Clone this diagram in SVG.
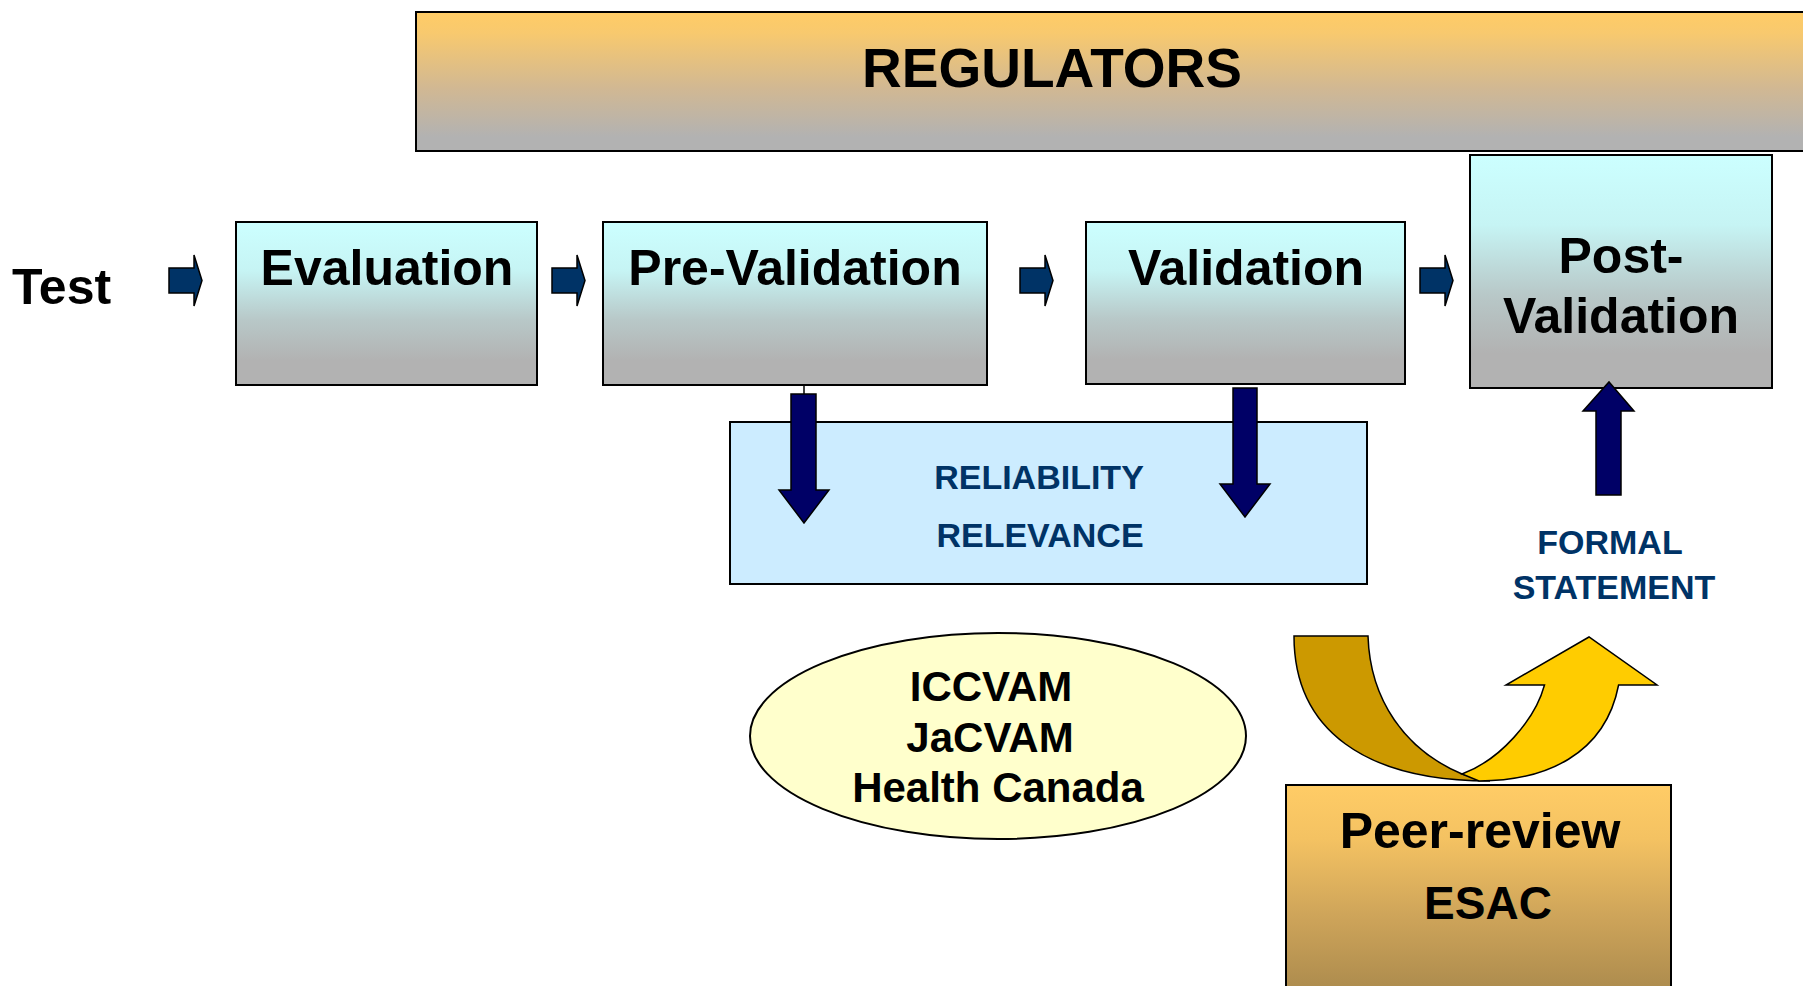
<svg xmlns="http://www.w3.org/2000/svg" width="1803" height="986" viewBox="0 0 1803 986">
<defs>
<linearGradient id="gReg" x1="0" y1="0" x2="0" y2="1">
<stop offset="0" stop-color="#FFCC66"/><stop offset="0.15" stop-color="#F8C96E"/><stop offset="0.55" stop-color="#D1B893"/><stop offset="0.9" stop-color="#B2B2B2"/><stop offset="1" stop-color="#B2B2B2"/>
</linearGradient>
<linearGradient id="gCyan" x1="0" y1="0" x2="0" y2="1">
<stop offset="0" stop-color="#CCFFFF"/><stop offset="0.3" stop-color="#C6F4F4"/><stop offset="0.6" stop-color="#B8C8C8"/><stop offset="0.85" stop-color="#B2B2B2"/><stop offset="1" stop-color="#B2B2B2"/>
</linearGradient>
<linearGradient id="gPeer" x1="0" y1="0" x2="0" y2="1">
<stop offset="0" stop-color="#FFCC66"/><stop offset="0.25" stop-color="#F4C262"/><stop offset="0.6" stop-color="#CFA55A"/><stop offset="1" stop-color="#A8884C"/>
</linearGradient>
<path id="rArrow" d="M0,13 H25 V0 L33,25.5 L25,51 V38 H0 Z"/>
</defs>
<style>
.box{stroke:#000;stroke-width:2}
.t{font-family:"Liberation Sans",Arial,sans-serif;font-weight:bold;fill:#000;text-anchor:middle}
.blue{fill:#003366}
.ra{fill:#003366;stroke:#000;stroke-width:1.5}
.na{fill:#000066;stroke:#000;stroke-width:1.5}
</style>
<rect width="1803" height="986" fill="#fff"/>

<g id="regulators">
<rect class="box" x="416" y="12" width="1400" height="139" fill="url(#gReg)"/>
<text class="t" x="1052" y="87" font-size="55">REGULATORS</text>
</g>

<g id="test">
<text class="t" x="12" y="304" font-size="50" style="text-anchor:start">Test</text>
</g>

<g id="evaluation">
<rect class="box" x="236" y="222" width="301" height="163" fill="url(#gCyan)"/>
<text class="t" x="387" y="285" font-size="50">Evaluation</text>
</g>

<g id="prevalidation">
<rect class="box" x="603" y="222" width="384" height="163" fill="url(#gCyan)"/>
<text class="t" x="795" y="285" font-size="50">Pre-Validation</text>
</g>

<g id="validation">
<rect class="box" x="1086" y="222" width="319" height="162" fill="url(#gCyan)"/>
<text class="t" x="1246" y="285" font-size="50">Validation</text>
</g>

<g id="postvalidation">
<rect class="box" x="1470" y="155" width="302" height="233" fill="url(#gCyan)"/>
<text class="t" x="1621" y="273" font-size="50">Post-</text>
<text class="t" x="1621" y="333" font-size="50">Validation</text>
</g>

<g id="reliability">
<rect class="box" x="730" y="422" width="637" height="162" fill="#CCECFF"/>
<text class="t blue" x="1039" y="489" font-size="34">RELIABILITY</text>
<text class="t blue" x="1040" y="547" font-size="34">RELEVANCE</text>
</g>

<g id="formalstatement">
<text class="t blue" x="1610" y="554" font-size="34">FORMAL</text>
<text class="t blue" x="1614" y="599" font-size="34">STATEMENT</text>
</g>

<g id="regulatorsellipse">
<ellipse cx="998" cy="736" rx="248" ry="103" fill="#FFFFCC" stroke="#000" stroke-width="2"/>
<text class="t" x="991" y="701" font-size="42">ICCVAM</text>
<text class="t" x="990" y="752" font-size="42">JaCVAM</text>
<text class="t" x="998" y="802" font-size="42">Health Canada</text>
</g>

<g id="peerreview">
<rect class="box" x="1286" y="785" width="385" height="215" fill="url(#gPeer)"/>
<text class="t" x="1480" y="848" font-size="50">Peer-review</text>
<text class="t" x="1488" y="919" font-size="46">ESAC</text>
</g>

<g id="connectors">
<use href="#rArrow" class="ra" x="169" y="255"/>
<use href="#rArrow" class="ra" x="552" y="255"/>
<use href="#rArrow" class="ra" x="1020" y="255"/>
<use href="#rArrow" class="ra" x="1420" y="255"/>
<line x1="804" y1="385" x2="804" y2="394" stroke="#000" stroke-width="1.5"/>
<path class="na" d="M791,394 H816 V490 H829 L804,523 L779,490 H791 Z"/>
<path class="na" d="M1233,388 H1257 V484 H1270 L1245,517 L1220,484 H1233 Z"/>
<path class="na" d="M1596,495 V411 H1583 L1609,382 L1634,411 H1621 V495 Z"/>
<path d="M1294,636 L1368,636 C1370,700 1405,750 1462,774 L1490,781 C1365,781 1294,730 1294,636 Z" fill="#CC9900" stroke="#000" stroke-width="1.5"/>
<path d="M1462,774 C1500,760 1535,720 1544.5,685 L1506,685 L1589,637 L1657,685 L1618.6,685 C1605,755 1545,781 1479,781 Z" fill="#FFCC00" stroke="#000" stroke-width="1.5"/>
</g>
</svg>
